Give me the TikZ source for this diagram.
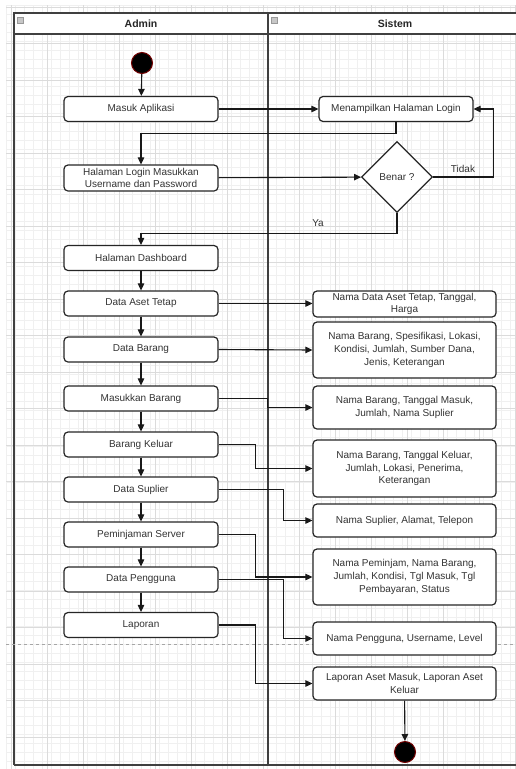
\documentclass[tikz,border=0pt]{standalone}
\usepackage{fontspec}
\setmainfont{Liberation Sans}
\usepackage{tikz}
\usetikzlibrary{arrows.meta,shapes.geometric}

\tikzset{
	act/.style={draw=black!85, line width=1.2pt, rounded corners=4pt, fill=white, minimum width=154pt, minimum height=25pt, inner sep=0pt, align=center, text=black!80},
	datum/.style={act, minimum width=183pt},
	decide/.style={draw=black!85, line width=1.2pt, diamond, aspect=1, fill=white, minimum width=71pt, minimum height=71pt, inner sep=0pt, text=black!80},
	startdot/.style={circle, fill=black, draw=red!45!black, line width=1pt, minimum size=21pt, inner sep=0pt},
	flow/.style={draw=black!90, line width=1.1pt, -{Triangle[length=7pt,width=6.5pt]}},
	lane/.style={draw=black!75, line width=1.6pt},
	gridfine/.style={draw=black!6, line width=0.4pt},
	gridbold/.style={draw=black!14, line width=0.5pt},
	lbl/.style={text=black!80, inner sep=1pt}
}

\begin{document}
\begin{tikzpicture}[x=1pt,y=-1pt,font=\fontsize{10}{12.6}\selectfont]
		\useasboundingbox (0,0) rectangle (516,769);
		% background grid
		\foreach \gx in {0,...,56}
			\draw[gridfine] (6+9*\gx,5) -- (6+9*\gx,769);
		\foreach \gy in {0,...,84}
			\draw[gridfine] (6,5+9*\gy) -- (516,5+9*\gy);
		\foreach \gx in {0,...,14}
			\draw[gridbold] (11+36*\gx,5) -- (11+36*\gx,769);
		\foreach \gy in {0,...,21}
			\draw[gridbold] (6,7+36.5*\gy) -- (516,7+36.5*\gy);
		% swimlanes
		\fill[white] (14,13) rectangle (524,34);
		\draw[lane] (14,34) -- (524,34);
		\draw[lane] (14,765) -- (14,13) -- (524,13);
		\draw[lane] (14,765) -- (524,765);
		\draw[lane] (268,13) -- (268,765);
		\filldraw[fill=black!22, draw=black!40, line width=0.4pt] (17,17) rectangle (23,23);
		\filldraw[fill=black!22, draw=black!40, line width=0.4pt] (271,17) rectangle (277,23);
		\node[font=\fontsize{10.5}{12}\selectfont\bfseries, text=black!85] (hAdmin) at (141,23.5) {Admin};
		\node[font=\fontsize{10.5}{12}\selectfont\bfseries, text=black!85] (hSistem) at (395,23.5) {Sistem};
		\draw[black!35, dashed, line width=0.8pt] (6,644) -- (516,644);
		% admin lane
		\node[startdot] (start) at (142,63) {};
		\node[act] (masuk) at (141,109) {Masuk Aplikasi};
		\node[act, minimum height=26pt] (login) at (141,178) {Halaman Login Masukkan\\Username dan Password};
		\node[act] (dashboard) at (141,258) {Halaman Dashboard};
		\node[act] (asetTetap) at (141,303.5) {Data Aset Tetap};
		\node[act] (dataBarang) at (141,349.5) {Data Barang};
		\node[act] (masukBarang) at (141,398.5) {Masukkan Barang};
		\node[act] (barangKeluar) at (141,444.5) {Barang Keluar};
		\node[act] (dataSuplier) at (141,489.5) {Data Suplier};
		\node[act] (pinjamServer) at (141,534.5) {Peminjaman Server};
		\node[act] (dataPengguna) at (141,579.5) {Data Pengguna};
		\node[act] (laporan) at (141,625) {Laporan};
		% sistem lane
		\node[act] (tampilLogin) at (396,109) {Menampilkan Halaman Login};
		\node[decide] (benar) at (397,177) {Benar ?};
		\node[datum, minimum height=26pt] (rAset) at (404.5,304) {Nama Data Aset Tetap, Tanggal,\\Harga};
		\node[datum, minimum height=56pt] (rBarang) at (404.5,350) {Nama Barang, Spesifikasi, Lokasi,\\Kondisi, Jumlah, Sumber Dana,\\Jenis, Keterangan};
		\node[datum, minimum height=43pt] (rMasuk) at (404.5,407.5) {Nama Barang, Tanggal Masuk,\\Jumlah, Nama Suplier};
		\node[datum, minimum height=57pt] (rKeluar) at (404.5,468.5) {Nama Barang, Tanggal Keluar,\\Jumlah, Lokasi, Penerima,\\Keterangan};
		\node[datum, minimum height=33pt] (rSuplier) at (404.5,520.5) {Nama Suplier, Alamat, Telepon};
		\node[datum, minimum height=56pt] (rPinjam) at (404.5,577) {Nama Peminjam, Nama Barang,\\Jumlah, Kondisi, Tgl Masuk, Tgl\\Pembayaran, Status};
		\node[datum, minimum height=33pt] (rPengguna) at (404.5,638.5) {Nama Pengguna, Username, Level};
		\node[datum, minimum height=33pt] (rLaporan) at (404.5,683.5) {Laporan Aset Masuk, Laporan Aset\\Keluar};
		\node[startdot] (finish) at (405,752) {};
		% connectors
		\draw[flow] (start) -- (masuk);
		\draw[flow] (masuk) -- (tampilLogin);
		\draw[flow] (tampilLogin.south) -- ++(0,11) -| (login.north);
		\draw[flow] (login) -- (benar);
		\draw[flow] (benar.east) -- ++(60,0) |- (tampilLogin.east);
		\node[lbl] (tidak) at (463,169) {Tidak};
		\draw[flow] (benar.south) -- ++(0,20) -| (dashboard.north);
		\node[lbl] (ya) at (318,223) {Ya};
		\draw[flow] (dashboard) -- (asetTetap);
		\draw[flow] (asetTetap) -- (dataBarang);
		\draw[flow] (dataBarang) -- (masukBarang);
		\draw[flow] (masukBarang) -- (barangKeluar);
		\draw[flow] (barangKeluar) -- (dataSuplier);
		\draw[flow] (dataSuplier) -- (pinjamServer);
		\draw[flow] (pinjamServer) -- (dataPengguna);
		\draw[flow] (dataPengguna) -- (laporan);
		\draw[flow] (asetTetap.east) -- (rAset.west |- asetTetap.east);
		\draw[flow] (dataBarang.east) -- (rBarang.west);
		\draw[flow] (masukBarang.east) -- ++(49,0) |- (rMasuk.west);
		\draw[flow] (barangKeluar.east) -- ++(37,0) |- (rKeluar.west);
		\draw[flow] (dataSuplier.east) -- ++(65,0) |- (rSuplier.west);
		\draw[flow] (pinjamServer.east) -- ++(37,0) |- (rPinjam.west);
		\draw[flow] (dataPengguna.east) -- ++(65,0) |- (rPengguna.west);
		\draw[flow] (laporan.east) -- ++(37,0) |- (rLaporan.west);
		\draw[flow] (rLaporan) -- (finish);
\end{tikzpicture}
\end{document}
